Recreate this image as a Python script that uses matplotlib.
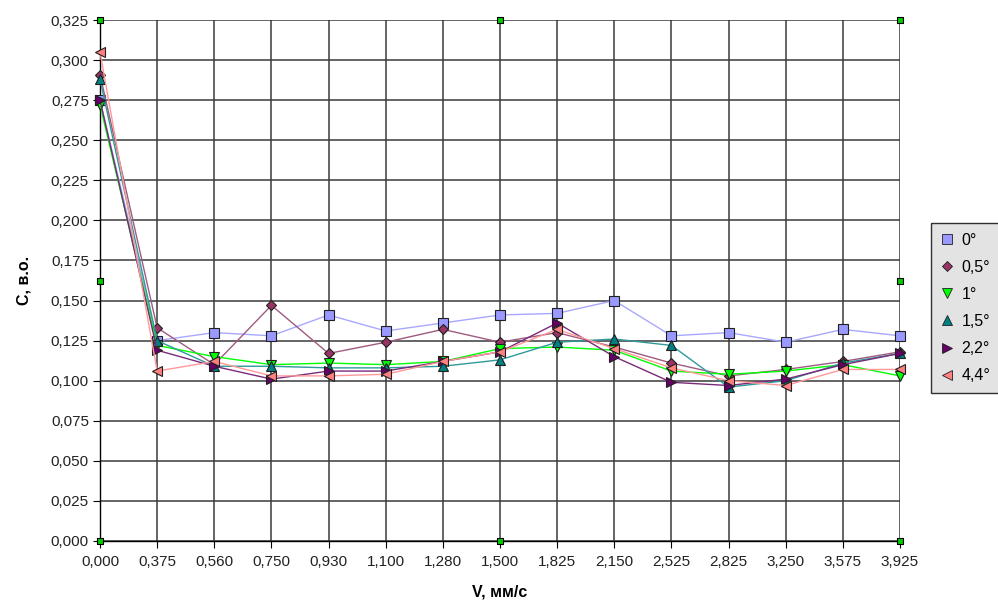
import matplotlib
matplotlib.use("Agg")
import matplotlib.pyplot as plt
from matplotlib.lines import Line2D

plt.rcParams['font.family'] = ['Liberation Sans', 'DejaVu Sans']

categories = ["0,000", "0,375", "0,560", "0,750", "0,930", "1,100", "1,280", "1,500",
              "1,825", "2,150", "2,525", "2,825", "3,250", "3,575", "3,925"]

s_0 = [0.275, 0.125, 0.130, 0.128, 0.141, 0.131, 0.136, 0.141, 0.142, 0.150, 0.128, 0.130, 0.124, 0.132, 0.128]
s_05 = [0.291, 0.133, 0.110, 0.147, 0.117, 0.124, 0.132, 0.124, 0.130, 0.121, 0.111, 0.103, 0.107, 0.112, 0.118]
s_1 = [0.272, 0.122, 0.115, 0.110, 0.111, 0.110, 0.112, 0.120, 0.121, 0.119, 0.106, 0.104, 0.106, 0.110, 0.103]
s_15 = [0.288, 0.125, 0.109, 0.109, 0.108, 0.108, 0.109, 0.113, 0.124, 0.126, 0.122, 0.096, 0.100, 0.111, 0.117]
s_22 = [0.275, 0.119, 0.109, 0.101, 0.106, 0.106, 0.112, 0.118, 0.136, 0.115, 0.099, 0.097, 0.101, 0.110, 0.117]
s_44 = [0.305, 0.106, 0.112, 0.103, 0.103, 0.104, 0.112, 0.118, 0.132, 0.120, 0.108, 0.100, 0.097, 0.107, 0.107]

series_labels = ["0°", "0,5°", "1°", "1,5°", "2,2°", "4,4°"]
series_values = [s_0, s_05, s_1, s_15, s_22, s_44]
line_colors = ["#A8A8FF", "#A05A80", "#00FF00", "#2E9A9A", "#7A2A7A", "#FF9999"]
face_colors = ["#9999FF", "#993366", "#00FF00", "#008080", "#660066", "#FF8080"]
markers = ["s", "D", "v", "^", ">", "<"]
msizes = [7, 5, 6.5, 6.5, 6.5, 6.5]

yticks = [i * 0.025 for i in range(14)]
ytick_labels = [f"{v:.3f}".replace(".", ",") for v in yticks]

fig = plt.figure(figsize=(9.98, 6.07), dpi=100)
ax = fig.add_axes([100 / 998, 66 / 607, 800 / 998, 521 / 607])

x = list(range(len(categories)))
for vals, lc, fc, m, ms in zip(series_values, line_colors, face_colors, markers, msizes):
    ax.plot(x, vals, color=lc, linewidth=1.0, marker=m, markersize=ms,
            markerfacecolor=fc, markeredgecolor="#202020", markeredgewidth=0.8,
            zorder=3, clip_on=False)

ax.set_xlim(0, len(categories) - 1)
ax.set_ylim(0, 0.325)
ax.set_xticks(x)
ax.set_xticklabels(categories)
ax.set_yticks(yticks)
ax.set_yticklabels(ytick_labels)
ax.tick_params(axis='both', labelsize=11, length=5, color="#000000", direction='out', pad=3,
               labelcolor="#222222")
ax.tick_params(axis='x', pad=5)
ax.grid(True, color="#3a3a3a", linewidth=1.1, zorder=0)
ax.set_axisbelow(True)
for side in ['top', 'right']:
    ax.spines[side].set_visible(False)
for side in ['left', 'bottom']:
    ax.spines[side].set_color("#000000")
    ax.spines[side].set_linewidth(1.0)

ax.set_xlabel("V, мм/с", fontsize=11.5, fontweight='bold', labelpad=11)
ax.set_ylabel("C, в.о.", fontsize=11.5, fontweight='bold', labelpad=14)

# selection handles
hx = [0, 0.5, 1, 0, 1, 0, 0.5, 1]
hy = [1, 1, 1, 0.5, 0.5, 0, 0, 0]
ax.scatter(hx, hy, s=22, marker='s', facecolor="#00CC00", edgecolor="#000000",
           linewidth=0.8, transform=ax.transAxes, clip_on=False, zorder=5)

handles = [Line2D([], [], linestyle='none', marker=m, markersize=ms, markerfacecolor=fc,
                  markeredgecolor="#202020", markeredgewidth=0.6)
           for m, fc, ms in zip(markers, face_colors, [6.5, 5.5, 6.5, 6.5, 6.5, 6.5])]
leg = fig.legend(handles, series_labels, loc='upper left', bbox_to_anchor=(931 / 998, 1 - 223 / 607),
                 frameon=True, fancybox=False, fontsize=11.5, handlelength=0.8, handletextpad=0.5,
                 labelspacing=0.76, borderpad=0.6, borderaxespad=0)
leg.get_frame().set_facecolor("#DCDCDC")
leg.get_frame().set_edgecolor("#000000")
leg.get_frame().set_linewidth(1.0)

fig.savefig("out.png", dpi=100)
